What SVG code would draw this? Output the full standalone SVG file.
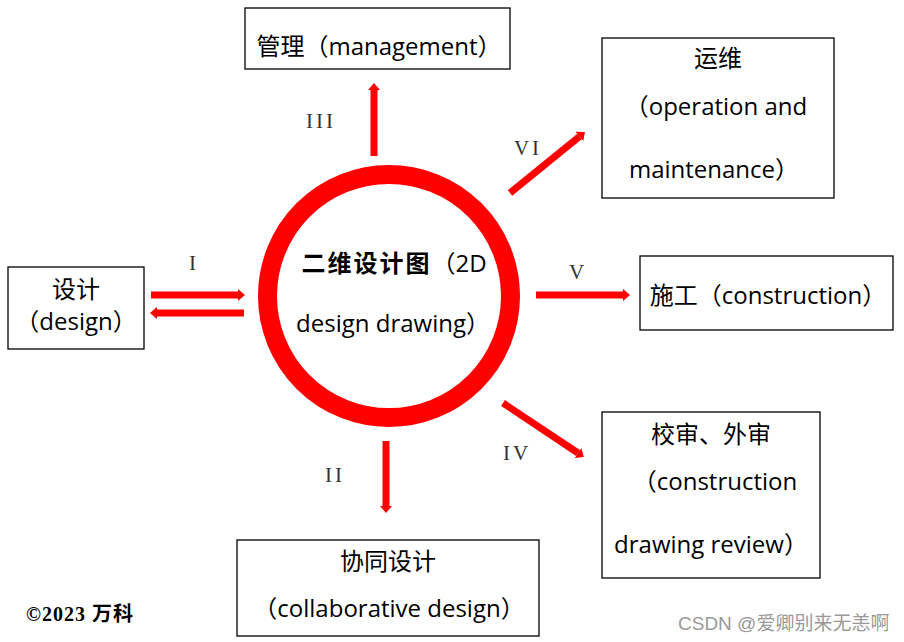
<svg xmlns="http://www.w3.org/2000/svg" width="904" height="642" viewBox="0 0 904 642">
<defs>
<style>
.box{fill:#fff;stroke:#000;stroke-width:1.3}
.t{font-family:"Open Sans","Noto Sans CJK SC",sans-serif;font-size:24px;fill:#000;text-anchor:middle}
.num{font-family:"Liberation Serif","Noto Sans CJK SC",serif;font-size:21px;fill:#333;text-anchor:middle;letter-spacing:3px}
.ar{stroke:#ff0000;stroke-width:7;fill:none;marker-end:url(#ah)}
</style>
<marker id="ah" markerUnits="userSpaceOnUse" viewBox="0 -6 7 12" markerWidth="7" markerHeight="12" refX="0" refY="0" orient="auto">
<path d="M0,-6 L7,0 L0,6 Z" fill="#ff0000"/>
</marker>
</defs>
<rect width="904" height="642" fill="#fff"/>

<g id="center">
<circle cx="389" cy="296" r="121.5" fill="#fff" stroke="#ff0000" stroke-width="19"/>
<text class="t" x="394" y="272"><tspan font-weight="bold" letter-spacing="2">二维设计图</tspan>（2D</text>
<text class="t" x="393" y="332">design drawing）</text>
</g>

<g id="management">
<rect class="box" x="245" y="8" width="265" height="61"/>
<text class="t" x="379" y="55">管理（management）</text>
</g>

<g id="design">
<rect class="box" x="8" y="267" width="136" height="82"/>
<text class="t" x="76" y="298">设计</text>
<text class="t" x="76" y="330">（design）</text>
</g>

<g id="operation">
<rect class="box" x="602" y="38" width="232" height="160"/>
<text class="t" x="718" y="67">运维</text>
<text class="t" x="716" y="115">（operation and</text>
<text class="t" x="714" y="178">maintenance）</text>
</g>

<g id="construction">
<rect class="box" x="640" y="256" width="253" height="74"/>
<text class="t" x="768" y="304">施工（construction）</text>
</g>

<g id="review">
<rect class="box" x="602" y="412" width="218" height="166"/>
<text class="t" x="711" y="443">校审、外审</text>
<text class="t" x="715" y="490">（construction</text>
<text class="t" x="711" y="553">drawing review）</text>
</g>

<g id="collaborative">
<rect class="box" x="237" y="540" width="302" height="96"/>
<text class="t" x="388" y="570">协同设计</text>
<text class="t" x="389" y="617">（collaborative design）</text>
</g>

<g id="connectors">
<line class="ar" x1="151" y1="295" x2="238" y2="295"/>
<line class="ar" x1="244" y1="313" x2="157" y2="313"/>
<line class="ar" x1="374" y1="156" x2="374" y2="90"/>
<line class="ar" x1="510" y1="193" x2="579.5" y2="136.5"/>
<line class="ar" x1="536" y1="295" x2="623" y2="295"/>
<line class="ar" x1="503" y1="403" x2="578" y2="453"/>
<line class="ar" x1="386" y1="441" x2="386" y2="506"/>
</g>

<g id="labels">
<text class="num" x="194" y="270">I</text>
<text class="num" x="321" y="128">III</text>
<text class="num" x="528" y="155">VI</text>
<text class="num" x="578" y="279">V</text>
<text class="num" x="517" y="460">IV</text>
<text class="num" x="335" y="482">II</text>
</g>

<text x="26" y="621" font-family="'Liberation Serif','Noto Sans CJK SC',serif" font-size="20" font-weight="bold" letter-spacing="1" fill="#000">©2023 万科</text>
<text x="678" y="630" font-family="'Liberation Sans','Noto Sans CJK SC',sans-serif" font-size="19" fill="#999">CSDN @爱卿别来无恙啊</text>
</svg>
